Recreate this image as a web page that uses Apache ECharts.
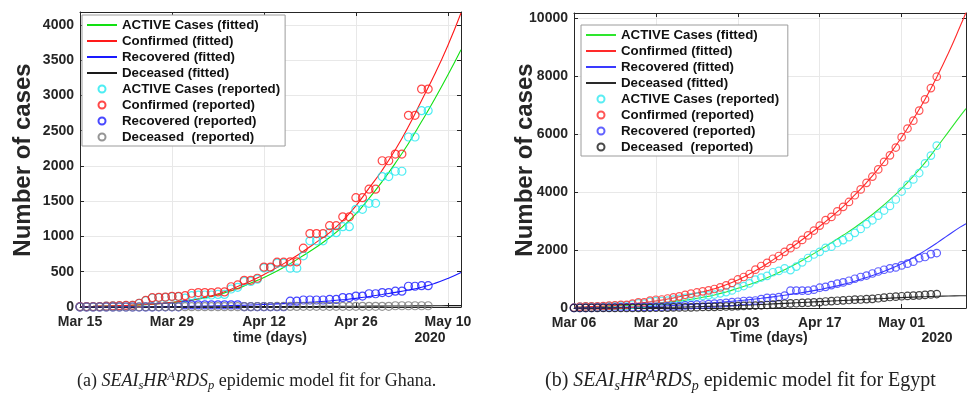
<!DOCTYPE html>
<html>
<head>
<meta charset="utf-8">
<script src="https://cdn.jsdelivr.net/npm/echarts@6/dist/echarts.min.js"></script>
<style>
  html, body { margin: 0; padding: 0; background: #ffffff; }
  #chart { width: 969px; height: 393px; }
</style>
</head>
<body>
<div id="chart"></div>
<script>
// ---------- Ghana (day 0 = Mar 15, 2020) ----------
const ghanaTicks = ['Mar 15', 'Mar 29', 'Apr 12', 'Apr 26', 'May 10'];
const ghanaConfirmed = [6,6,7,7,11,16,19,23,24,53,93,132,137,141,152,152,161,195,204,205,205,214,214,287,313,378,378,408,566,566,636,636,641,641,834,1042,1042,1042,1154,1154,1279,1279,1550,1550,1671,1671,2074,2074,2169,2169,2719,2719,3091,3091];
const ghanaActive = [6,6,7,7,11,15,18,21,22,51,90,128,132,136,146,146,125,160,169,170,170,178,178,255,279,362,362,394,554,554,622,622,550,550,726,938,938,938,1054,1054,1139,1139,1385,1385,1470,1470,1850,1850,1925,1925,2411,2411,2785,2785];
const ghanaRecovered = [0,0,0,0,0,0,0,0,0,0,1,1,2,2,2,2,31,31,31,31,31,31,31,31,31,4,4,4,4,4,4,4,83,83,99,99,99,99,108,108,134,134,155,155,188,188,205,205,225,225,294,294,303,303];
const ghanaDeceased = [0,0,0,0,0,0,0,0,0,2,2,2,4,4,5,5,5,5,5,5,5,5,5,5,5,5,5,6,6,6,8,8,8,8,9,9,9,9,9,9,9,9,9,9,10,10,10,10,18,18,18,18,18,18];

// model curves, sampled every second day
const ghanaFitDays = [0,2,4,6,8,10,12,14,16,18,20,22,24,26,28,30,32,34,36,38,40,42,44,46,48,50,52,54,56,58];
const ghanaActiveFit = [6,9,13,18,25,34,46,62,84,112,150,200,262,340,420,510,615,730,850,985,1140,1320,1540,1780,2040,2320,2630,2950,3290,3650];
const ghanaConfirmedFit = [7,10,14,19,26,35,48,65,88,118,160,215,290,370,460,560,670,790,920,1055,1225,1435,1685,1940,2230,2560,2930,3300,3710,4170];
const ghanaRecoveredFit = [0,0,1,1,2,3,4,6,8,11,14,18,23,29,36,44,53,63,74,86,102,122,150,178,207,240,280,335,405,490];
const ghanaDeceasedFit = [0,0,0,1,1,1,2,2,3,3,4,4,5,5,6,6,7,8,8,9,10,11,12,13,14,15,16,17,19,20];

// ---------- Egypt (day 0 = Mar 06, 2020) ----------
const egyptTicks = ['Mar 06', 'Mar 20', 'Apr 03', 'Apr 17', 'May 01'];
const egyptConfirmed = [15,48,55,59,59,67,80,93,109,110,150,196,196,256,285,294,327,366,402,456,495,536,576,609,656,710,779,865,985,1070,1173,1322,1450,1560,1699,1794,1939,2065,2190,2350,2505,2673,2844,3032,3144,3333,3490,3659,3891,4092,4319,4534,4782,5042,5268,5537,5895,6193,6465,6813,7201,7588,7981];
const egyptActive = [14,47,53,57,46,54,64,70,80,81,119,158,151,210,236,242,257,289,318,346,369,390,419,437,465,507,548,606,703,758,848,979,1051,1109,1233,1281,1366,1309,1429,1575,1725,1846,1939,2078,2115,2243,2343,2443,2594,2728,2892,3027,3185,3363,3522,3745,4019,4248,4436,4657,4989,5259,5602];
const egyptRecovered = [1,1,1,1,12,12,14,21,27,27,27,32,39,39,41,42,56,58,64,89,102,116,121,132,150,157,179,201,216,241,247,258,305,348,348,378,427,597,597,597,597,631,700,730,790,840,883,940,1010,1070,1120,1190,1260,1320,1366,1400,1470,1530,1600,1720,1760,1860,1897];
const egyptDeceased = [0,0,1,1,1,1,2,2,2,2,4,6,6,7,8,10,14,19,20,21,24,30,36,40,41,46,52,58,66,71,78,85,94,103,118,135,146,159,164,178,183,196,205,224,239,250,264,276,287,294,307,317,337,359,380,392,406,415,429,436,452,469,482];

const egyptFitDays = [0,2,4,6,8,10,12,14,16,18,20,22,24,26,28,30,32,34,36,38,40,42,44,46,48,50,52,54,56,58,60,62,64,66,67];
const egyptActiveFit = [20,30,44,60,80,103,130,162,200,245,300,370,450,555,680,810,960,1130,1320,1530,1760,2000,2250,2510,2780,3070,3390,3740,4120,4550,5020,5540,6080,6620,6880];
const egyptConfirmedFit = [25,40,58,80,108,142,185,240,310,390,470,560,665,800,970,1170,1400,1660,1930,2210,2510,2820,3150,3500,3900,4330,4800,5320,5890,6520,7200,7960,8800,9720,10200];
const egyptRecoveredFit = [2,5,10,17,25,35,47,62,80,100,125,150,180,215,250,290,335,385,440,500,565,640,720,815,925,1050,1190,1350,1530,1740,1980,2240,2520,2790,2910];
const egyptDeceasedFit = [0,1,2,4,6,9,13,18,24,31,40,50,62,75,90,106,123,141,160,180,200,220,240,260,280,300,320,340,358,375,390,403,413,421,424];

const seriesNames = [
  'ACTIVE Cases (fitted)', 'Confirmed (fitted)', 'Recovered (fitted)', 'Deceased (fitted)',
  'ACTIVE Cases (reported)', 'Confirmed (reported)', 'Recovered (reported)', 'Deceased  (reported)'
];

const SANS = '"Liberation Sans", Arial, sans-serif';
const SERIF = '"Liberation Serif", "Times New Roman", serif';
const INK = '#262626';

const byDay = vals => vals.map((v, i) => [i, v]);
const onDays = (days, vals) => vals.map((v, i) => [days[i], v]);

function fitted(name, days, vals, color, axis) {
  return {
    name, type: 'line', xAxisIndex: axis, yAxisIndex: axis,
    data: onDays(days, vals), symbol: 'none', smooth: true,
    lineStyle: { color, width: 1.1 },
    // transparent item colour keeps the legend entry a plain line
    itemStyle: { color: 'rgba(0,0,0,0)', borderWidth: 0 },
    z: 2, silent: true
  };
}
function reported(name, vals, color, axis, size) {
  return {
    name, type: 'scatter', xAxisIndex: axis, yAxisIndex: axis,
    data: byDay(vals), symbol: 'circle', symbolSize: size,
    itemStyle: { color: 'rgba(255,255,255,0)', borderColor: color, borderWidth: 1.2 },
    z: 3, silent: true
  };
}

// right-hand panel uses its own series names (same visible text)
const rightNames = seriesNames.map(n => n + '\u00a0');

const L = { green: '#12e012', red: '#ff1a1a', blue: '#1a1aff', black: '#1a1a1a', cyan: '#20e8f0', gray: '#7a7a7a' };
const R = { green: '#2ee62e', red: '#ff2a2a', blue: '#3a3aff', black: '#2a2a2a', cyan: '#30e8f0', dark: '#1a1a1a' };

const series = [
  fitted(seriesNames[0], ghanaFitDays, ghanaActiveFit, L.green, 0),
  fitted(seriesNames[1], ghanaFitDays, ghanaConfirmedFit, L.red, 0),
  fitted(seriesNames[2], ghanaFitDays, ghanaRecoveredFit, L.blue, 0),
  fitted(seriesNames[3], ghanaFitDays, ghanaDeceasedFit, L.black, 0),
  reported(seriesNames[4], ghanaActive, L.cyan, 0, 8),
  reported(seriesNames[5], ghanaConfirmed, L.red, 0, 8),
  reported(seriesNames[6], ghanaRecovered, L.blue, 0, 8),
  reported(seriesNames[7], ghanaDeceased, L.gray, 0, 8),

  fitted(rightNames[0], egyptFitDays, egyptActiveFit, R.green, 2),
  fitted(rightNames[1], egyptFitDays, egyptConfirmedFit, R.red, 2),
  fitted(rightNames[2], egyptFitDays, egyptRecoveredFit, R.blue, 2),
  fitted(rightNames[3], egyptFitDays, egyptDeceasedFit, R.black, 2),
  reported(rightNames[4], egyptActive, R.cyan, 2, 7.5),
  reported(rightNames[5], egyptConfirmed, R.red, 2, 7.5),
  reported(rightNames[6], egyptRecovered, R.blue, 2, 7.5),
  reported(rightNames[7], egyptDeceased, R.dark, 2, 7.5)
];

const frameLine = { show: true, onZero: false, lineStyle: { color: INK, width: 1 } };
const innerTick = { show: true, inside: true, length: 4, lineStyle: { color: INK, width: 1 } };
const gridLine = { show: true, lineStyle: { color: '#e8e8e8', width: 1 } };
const tickFont = { fontFamily: SANS, fontWeight: 'bold', fontSize: 14, color: INK };

function xAxes(gridIndex, max, ticks) {
  const base = { type: 'value', gridIndex, min: 0, max, interval: 14 };
  return [
    Object.assign({}, base, {
      position: 'bottom', axisLine: frameLine, axisTick: innerTick, splitLine: gridLine,
      axisLabel: Object.assign({}, tickFont, {
        margin: 8, showMaxLabel: false,
        formatter: v => (v % 14 === 0 ? ticks[v / 14] : '')
      })
    }),
    Object.assign({}, base, {
      position: 'top', axisLine: frameLine, axisTick: innerTick,
      splitLine: { show: false }, axisLabel: { show: false }
    })
  ];
}
function yAxes(gridIndex, max, interval) {
  const base = { type: 'value', gridIndex, min: 0, max, interval };
  return [
    Object.assign({}, base, {
      position: 'left', axisLine: frameLine, axisTick: innerTick, splitLine: gridLine,
      axisLabel: Object.assign({}, tickFont, { margin: 6, showMaxLabel: false, formatter: v => String(v) })
    }),
    Object.assign({}, base, {
      position: 'right', axisLine: frameLine, axisTick: innerTick,
      splitLine: { show: false }, axisLabel: { show: false }
    })
  ];
}

const legendBase = {
  orient: 'vertical', itemWidth: 30, itemHeight: 7, itemGap: 0,
  padding: [2, 5, 1, 4], backgroundColor: '#ffffff',
  borderColor: '#9c9c9c', borderWidth: 1, borderRadius: 0,
  selectedMode: false,
  textStyle: { fontFamily: SANS, fontWeight: 'bold', fontSize: 13.3, color: '#111111', lineHeight: 16 }
};

function captionRich(size) {
  const small = size * 0.7;
  const drop = Math.round(size * 0.55);
  return {
    it: { fontFamily: SERIF, fontStyle: 'italic', fontSize: size, lineHeight: size + 4 },
    sb: { fontFamily: SERIF, fontStyle: 'italic', fontSize: small, lineHeight: small, padding: [drop, 0, 0, 0], verticalAlign: 'bottom' },
    sp: { fontFamily: SERIF, fontStyle: 'italic', fontSize: small, lineHeight: small, padding: [0, 0, drop, 0], verticalAlign: 'top' },
    rm: { fontFamily: SERIF, fontSize: size, lineHeight: size + 4 }
  };
}
const modelName = '{it|SEAI}{sb|s}{it|HR}{sp|A}{it|RDS}{sb|p}';

const option = {
  animation: false,
  backgroundColor: '#ffffff',
  grid: [
    { left: 80, top: 12, width: 381, height: 295 },
    { left: 574, top: 13, width: 392, height: 295 }
  ],
  xAxis: [].concat(xAxes(0, 58, ghanaTicks), xAxes(1, 67, egyptTicks)),
  yAxis: [].concat(yAxes(0, 4184, 500), yAxes(1, 10180, 2000)),
  legend: [
    Object.assign({}, legendBase, { left: 82, top: 15, data: seriesNames }),
    Object.assign({}, legendBase, { left: 581, top: 25, data: rightNames })
  ],
  series,
  graphic: [
    { type: 'text', x: 23, y: 160, rotation: Math.PI / 2, z: 10,
      style: { text: 'Number of cases', font: 'bold 24px ' + SANS, fill: INK, align: 'center', verticalAlign: 'middle' } },
    { type: 'text', x: 525, y: 160, rotation: Math.PI / 2, z: 0,
      style: { text: 'Number of cases', font: 'bold 24px ' + SANS, fill: INK, align: 'center', verticalAlign: 'middle' } },
    { type: 'text', x: 270, y: 338,
      style: { text: 'time (days)', font: 'bold 14px ' + SANS, fill: INK, align: 'center', verticalAlign: 'middle' } },
    { type: 'text', x: 430, y: 338,
      style: { text: '2020', font: 'bold 14px ' + SANS, fill: INK, align: 'center', verticalAlign: 'middle' } },
    { type: 'text', x: 769, y: 338,
      style: { text: 'Time (days)', font: 'bold 14px ' + SANS, fill: INK, align: 'center', verticalAlign: 'middle' } },
    { type: 'text', x: 937, y: 338,
      style: { text: '2020', font: 'bold 14px ' + SANS, fill: INK, align: 'center', verticalAlign: 'middle' } },
    { type: 'text', x: 77, y: 381,
      style: { text: '{rm|(a) }' + modelName + '{rm| epidemic model fit for Ghana.}', rich: captionRich(18),
               fill: '#222222', align: 'left', verticalAlign: 'middle' } },
    { type: 'text', x: 545, y: 381,
      style: { text: '{rm|(b) }' + modelName + '{rm| epidemic model fit for Egypt}', rich: captionRich(20),
               fill: '#222222', align: 'left', verticalAlign: 'middle' } }
  ]
};

const chart = echarts.init(document.getElementById('chart'));
chart.setOption(option);
</script>
</body>
</html>
